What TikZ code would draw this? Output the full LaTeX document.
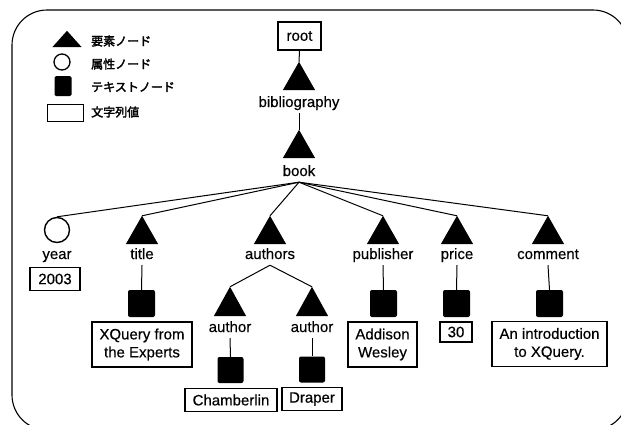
\documentclass[tikz,border=0pt]{standalone}
\usepackage{fontspec}
\setmainfont{Liberation Sans}[FakeBold=0.4]
\newfontfamily\jp[FakeBold=2.5]{Noto Sans CJK JP}
\begin{document}
\begin{tikzpicture}[x=1pt,y=-1pt,
  every node/.style={font=\fontsize{15}{18}\selectfont, inner sep=0pt},
  lbl/.style={text height=11pt, text depth=3pt, inner ysep=3pt},
  valbox/.style={draw, line width=1.1pt, inner xsep=3pt, inner ysep=2.5pt, minimum height=23pt, align=center},
  tri/.style={minimum width=32pt, minimum height=28pt},
  txtsq/.style={fill=black, rounded corners=2pt, minimum size=27pt},
  attr/.style={circle, draw, line width=1.4pt, minimum size=25pt},
  legtxt/.style={anchor=west, font=\jp\fontsize{12}{14}\selectfont},
  conn/.style={line width=1pt}]
\useasboundingbox (0,0) rectangle (621,424);
\draw[line width=1.1pt, rounded corners=35pt] (12,10) rectangle (628,430);

% legend
\node[minimum width=29pt, minimum height=16pt] (lgT) at (67,39) {};
\node[circle, draw, line width=1.3pt, minimum size=16pt] (lgC) at (62,62) {};
\node[fill=black, rounded corners=1.5pt, minimum width=17pt, minimum height=20pt] (lgS) at (63,86) {};
\node[draw, line width=1pt, minimum width=36pt, minimum height=17pt] (lgR) at (65,113) {};
\node[legtxt] (lgT1) at (91,41) {要素ノード};
\node[legtxt] (lgC1) at (91,64) {属性ノード};
\node[legtxt] (lgS1) at (91,87) {テキストノード};
\node[legtxt] (lgR1) at (91,112) {文字列値};

% tree
\node[valbox, minimum width=43pt, minimum height=28pt] (root) at (299.5,36) {root};
\node[tri] (bibT) at (299,76) {};
\node[lbl] (bibL) at (299,103) {bibliography};
\node[tri] (bookT) at (299,144) {};
\node[lbl] (bookL) at (299,172) {book};

\node[attr] (yearC) at (57,230) {};
\node[lbl] (yearL) at (57,255) {year};
\node[valbox, minimum width=50pt] (yearV) at (55,279) {2003};

\node[tri] (titleT) at (142,230) {};
\node[lbl] (titleL) at (142,255) {title};
\node[txtsq] (titleS) at (141.5,303.5) {};
\node[valbox, minimum width=100pt, minimum height=45pt] (titleV) at (142,344.5) {XQuery from\\the Experts};

\node[tri] (authorsT) at (270,230) {};
\node[lbl] (authorsL) at (270,255) {authors};
\node[tri, minimum height=29pt] (a1T) at (230,301.5) {};
\node[lbl] (a1L) at (230,328) {author};
\node[txtsq, minimum size=26pt] (a1S) at (230.5,370) {};
\node[valbox, minimum width=92pt] (a1V) at (231,400) {Chamberlin};
\node[tri, minimum height=29pt] (a2T) at (312,301.5) {};
\node[lbl] (a2L) at (312,328) {author};
\node[txtsq, minimum size=26pt] (a2S) at (312,369.5) {};
\node[valbox, minimum width=60pt] (a2V) at (312,399) {Draper};

\node[tri] (pubT) at (383,230) {};
\node[lbl] (pubL) at (383,255) {publisher};
\node[txtsq] (pubS) at (383.5,303.5) {};
\node[valbox, minimum width=69pt, minimum height=45pt] (pubV) at (382.5,344.5) {Addison\\Wesley};

\node[tri] (priceT) at (457,230) {};
\node[lbl] (priceL) at (457,255) {price};
\node[txtsq] (priceS) at (456.5,303.5) {};
\node[valbox, minimum width=32pt, minimum height=20pt] (priceV) at (456,332) {30};

\node[tri] (comT) at (548,230) {};
\node[lbl] (comL) at (548,255) {comment};
\node[txtsq] (comS) at (549.5,303.5) {};
\node[valbox, minimum width=115pt, minimum height=45pt] (comV) at (549.5,344) {An introduction\\to XQuery.};

\foreach \n in {lgT,bibT,bookT,titleT,authorsT,a1T,a2T,pubT,priceT,comT}
  \fill (\n.south west) -- (\n.south east) -- (\n.north) -- cycle;

% connectors
\draw[conn] (root.south) -- (bibT.north);
\draw[conn] (bibL.south) -- (bookT.north);
\foreach \c in {yearC,titleT,authorsT,pubT,priceT,comT}
  \draw[conn] (bookL.south) -- (\c.north);
\draw[conn] (authorsL.south) -- (a1T.north);
\draw[conn] (authorsL.south) -- (a2T.north);
\foreach \p/\q in {titleL/titleS,a1L/a1S,a2L/a2S,pubL/pubS,priceL/priceS,comL/comS}
  \draw[conn] (\p.south) -- (\q.north);
\end{tikzpicture}
\end{document}
